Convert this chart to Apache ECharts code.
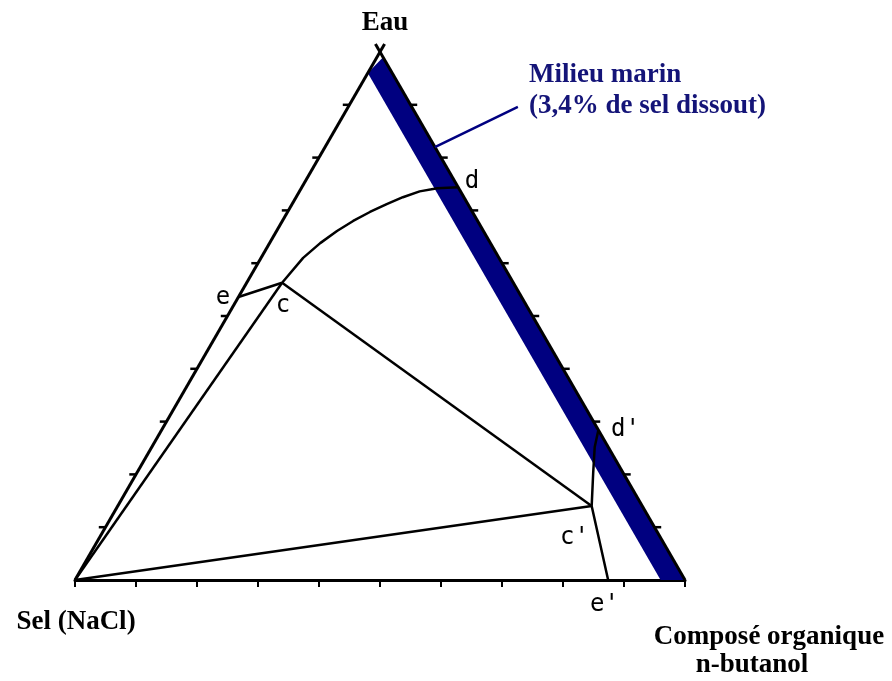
<!DOCTYPE html>
<html>
<head>
<meta charset="utf-8">
<script src="https://cdn.jsdelivr.net/npm/echarts@6/dist/echarts.min.js"></script>
<style>html,body{margin:0;padding:0;background:#fff}#main{width:892px;height:681px}</style>
</head>
<body>
<div id="main"></div>
<script>
// compositions in % (eau, sel) ; organique = 100 - eau - sel
// branche riche en eau : e -> c -> d
var upperEau = [53.6, 56.3, 61.0, 63.8, 66.1, 68.0, 69.7, 71.2, 72.5, 73.6, 74.2, 74.4];
var upperSel = [46.4, 37.9, 32.1, 27.9, 24.0, 20.4, 16.8, 13.3, 10.0, 6.7, 3.5, 0];
// branche riche en butanol : d' -> c' -> e'
var lowerEau = [28.4, 25.2, 20.3, 14.0, 0];
var lowerSel = [0, 2.2, 4.9, 8.3, 12.6];
// graduations (% eau sur les cotes)
var ticks = [10, 20, 30, 40, 50, 60, 70, 80, 90];
// bande "milieu marin"
var bandEau = [99.0, 96.0, 0, 0];
var bandSel = [0, 4.0, 4.0, 0];
// trait de renvoi vers la legende (x, y cartesiens)
var annot = [[0.590, 0.710], [0.726, 0.776]];

var SQ = Math.sqrt(3) / 2;
function toXY(eau, sel) {
  var org = 100 - eau - sel;
  return [(org + eau / 2) / 100, eau / 100 * SQ];
}

var upper = upperEau.map(function (v, i) { return toXY(v, upperSel[i]); });
var lower = lowerEau.map(function (v, i) { return toXY(v, lowerSel[i]); });
var band = bandEau.map(function (v, i) { return toXY(v, bandSel[i]); });
var selV = toXY(0, 100), orgV = toXY(0, 0);
var cPt = upper[1], cpPt = lower[3];

var tickSegs = [];
ticks.forEach(function (t) {
  var l = toXY(t, 100 - t), r = toXY(t, 0);
  tickSegs.push({coords: [l, [l[0] - 0.011, l[1]]]});
  tickSegs.push({coords: [r, [r[0] + 0.011, r[1]]]});
});

var edges = [
  {coords: [selV, toXY(101.5, -1.5)]},
  {coords: [orgV, toXY(101.5, 0)]}
];
var ties = [
  {coords: [selV, cPt]},
  {coords: [cPt, cpPt]},
  {coords: [selV, cpPt]}
];

var chart = echarts.init(document.getElementById('main'));
var serif = '"Liberation Serif", "Times New Roman", serif';
var mono = '"DejaVu Sans Mono", monospace';
function txt(s, x, y, font, fill, align) {
  return {type: 'text', x: x, y: y, z: 100,
    style: {text: s, font: font, fill: fill || '#000', textAlign: align || 'center', textVerticalAlign: 'middle',
      align: align || 'center', verticalAlign: 'middle'}};
}
var big = 'bold 27px ' + serif;
var small = '24px ' + mono;

chart.setOption({
  animation: false,
  grid: {left: 75, top: 52, width: 610, height: 528},
  xAxis: {type: 'value', min: 0, max: 1, interval: 0.1,
    axisLine: {show: true, lineStyle: {color: '#000', width: 3}},
    axisTick: {show: true, length: 7, lineStyle: {color: '#000', width: 2}},
    axisLabel: {show: false}, splitLine: {show: false}},
  yAxis: {type: 'value', min: 0, max: SQ, show: false},
  series: [
    {type: 'custom', clip: false, data: [0], z: 1,
      renderItem: function (params, api) {
        return {type: 'polygon', shape: {points: band.map(function (p) { return api.coord(p); })},
          style: {fill: '#000080'}};
      }},
    {type: 'lines', coordinateSystem: 'cartesian2d', polyline: true, clip: false, z: 5,
      lineStyle: {color: '#000', width: 3, opacity: 1}, data: edges},
    {type: 'lines', coordinateSystem: 'cartesian2d', polyline: true, clip: false, z: 5,
      lineStyle: {color: '#000', width: 2.5, opacity: 1}, data: tickSegs.concat(ties)},
    {type: 'line', data: upper, symbol: 'none', clip: false, z: 6,
      lineStyle: {color: '#000', width: 2.5, join: 'round'}},
    {type: 'line', data: lower, symbol: 'none', clip: false, z: 6,
      lineStyle: {color: '#000', width: 2.5}},
    {type: 'line', data: annot, symbol: 'none', clip: false, z: 6,
      lineStyle: {color: '#000080', width: 2.5}}
  ],
  graphic: [
    txt('Eau', 385, 23, big),
    txt('Sel (NaCl)', 76, 622, big),
    txt('Composé organique', 769, 637, big),
    txt('n-butanol', 752, 665, big),
    txt('Milieu marin', 529, 75, big, '#141478', 'left'),
    txt('(3,4% de sel dissout)', 529, 106, big, '#141478', 'left'),
    txt('e', 223, 298, small),
    txt('c', 283, 306, small),
    txt('d', 472, 182, small),
    txt("d'", 611, 430, small, '#000', 'left'),
    txt("c'", 560, 538, small, '#000', 'left'),
    txt("e'", 590, 605, small, '#000', 'left')
  ]
});
</script>
</body>
</html>
